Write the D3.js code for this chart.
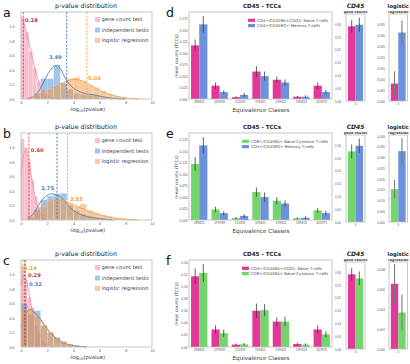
<!DOCTYPE html>
<html lang="en">
<head>
<meta charset="UTF-8">
<title>p-value distribution / CD45 TCCs</title>
<script src="https://cdn.jsdelivr.net/npm/d3@7"></script>
<style>
  body { margin: 0; background: #fff; }
  svg { display: block; font-family: "DejaVu Sans", sans-serif; }
  .frame { fill: none; stroke: #b8b8b8; stroke-width: 0.8; }
  .tick text { fill: #555; }
</style>
</head>
<body>
<script>
  // ---------- data: p-value distributions (a, b, c) ----------
  const testNames = ["gene count test", "independent tests", "logistic regression"];

  // histogram bins [x0, x1, density]
  const aGeneHist = [[0,0.3,1.12],[0.3,0.6,0.92],[0.6,0.9,0.66],[0.9,1.2,0.42],[1.2,1.5,0.24],[1.5,1.8,0.12],[1.8,2.1,0.05],[2.1,2.4,0.02]];
  const aIndepHist = [[1.0,1.5,0.08],[1.5,2.0,0.28],[2.0,2.5,0.28],[2.5,3.0,0.47],[3.0,3.5,0.22],[3.5,4.0,0.13],[4.0,4.5,0.08],[4.5,5.0,0.06],[5.0,5.5,0.05],[5.5,6.0,0.05],[6.0,6.5,0.02]];
  const aLogitHist = [[1.0,1.5,0.05],[1.5,2.0,0.09],[2.0,2.5,0.13],[2.5,3.0,0.18],[3.0,3.5,0.22],[3.5,4.0,0.28],[4.0,4.5,0.30],[4.5,5.0,0.25],[5.0,5.5,0.19],[5.5,6.0,0.16],[6.0,6.5,0.11],[6.5,7.0,0.07],[7.0,7.5,0.04],[7.5,8.0,0.02]];
  const bGeneHist = [[0,0.25,1.12],[0.25,0.5,1.0],[0.5,0.75,0.8],[0.75,1.0,0.55],[1.0,1.25,0.32],[1.25,1.5,0.18],[1.5,1.75,0.08],[1.75,2.0,0.03]];
  const bIndepHist = [[0.5,1.0,0.05],[1.0,1.5,0.14],[1.5,2.0,0.28],[2.0,2.5,0.33],[2.5,3.0,0.36],[3.0,3.5,0.37],[3.5,4.0,0.2],[4.0,4.5,0.13],[4.5,5.0,0.08],[5.0,5.5,0.05],[5.5,6.0,0.03],[6.0,6.5,0.02]];
  const bLogitHist = [[0.5,1.0,0.03],[1.0,1.5,0.1],[1.5,2.0,0.18],[2.0,2.5,0.26],[2.5,3.0,0.29],[3.0,3.5,0.27],[3.5,4.0,0.23],[4.0,4.5,0.19],[4.5,5.0,0.22],[5.0,5.5,0.13],[5.5,6.0,0.1],[6.0,6.5,0.07],[6.5,7.0,0.05],[7.0,7.5,0.03],[7.5,8.0,0.02],[8.0,8.5,0.01]];
  const cGeneHist = [[0,0.25,1.12],[0.25,0.5,0.92],[0.5,0.75,0.68],[0.75,1.0,0.55],[1.0,1.25,0.3],[1.25,1.5,0.2],[1.5,1.75,0.1],[1.75,2.0,0.05]];
  const cIndepHist = [[0,0.5,0.6],[0.5,1.0,0.45],[1.0,1.5,0.5],[1.5,2.0,0.3],[2.0,2.5,0.2],[2.5,3.0,0.13],[3.0,3.5,0.07],[3.5,4.0,0.04],[4.0,4.5,0.02],[4.5,5.0,0.01]];
  const cLogitHist = [[0,0.5,0.48],[0.5,1.0,0.52],[1.0,1.5,0.42],[1.5,2.0,0.3],[2.0,2.5,0.2],[2.5,3.0,0.13],[3.0,3.5,0.08],[3.5,4.0,0.04]];

  // density curves [x, density]
  const aGeneKde = [[0,1.14],[0.25,1.02],[0.5,0.86],[0.75,0.66],[1,0.46],[1.25,0.3],[1.5,0.17],[2,0.05],[2.5,0.01],[3,0]];
  const aIndepKde = [[0.5,0],[1,0.04],[1.5,0.15],[2,0.33],[2.5,0.45],[2.75,0.46],[3,0.42],[3.5,0.25],[4,0.15],[4.5,0.1],[5,0.07],[5.5,0.06],[6,0.04],[7,0.01],[8,0]];
  const aLogitKde = [[0.5,0.01],[1,0.04],[1.5,0.07],[2,0.11],[2.5,0.16],[3,0.21],[3.5,0.25],[4,0.27],[4.5,0.26],[5,0.22],[5.5,0.17],[6,0.12],[6.5,0.08],[7,0.05],[7.5,0.03],[8,0.015],[9,0]];
  const bGeneKde = [[0,0.6],[0.2,0.9],[0.35,0.97],[0.5,0.9],[0.75,0.65],[1,0.38],[1.25,0.2],[1.5,0.08],[2,0.01]];
  const bIndepKde = [[0.5,0.02],[1,0.1],[1.5,0.25],[2,0.34],[2.4,0.36],[3,0.32],[3.5,0.22],[4,0.13],[4.5,0.08],[5,0.05],[6,0.02],[7,0]];
  const bLogitKde = [[0.5,0.02],[1,0.08],[1.5,0.17],[2,0.24],[2.5,0.27],[3,0.27],[3.5,0.25],[4,0.21],[4.5,0.17],[5,0.13],[5.5,0.1],[6,0.07],[7,0.03],[8,0.01],[9,0]];
  const cGeneKde = [[0,0.85],[0.25,1.0],[0.5,0.85],[0.75,0.6],[1,0.4],[1.5,0.15],[2,0.04],[2.5,0]];
  const cIndepKde = [[0,0.28],[0.3,0.45],[0.7,0.52],[1,0.48],[1.5,0.38],[2,0.25],[2.5,0.15],[3,0.08],[3.5,0.04],[4,0.02],[5,0]];
  const cLogitKde = [[0,0.3],[0.3,0.45],[0.6,0.52],[1,0.47],[1.5,0.36],[2,0.24],[2.5,0.14],[3,0.08],[3.5,0.04],[4,0.01]];

  // medians (dashed lines)
  const aMedians = [0.18, 3.49, 5.03];
  const bMedians = [0.60, 2.75, 3.55];
  const cMedians = [0.29, 0.32, 0.14];

  const distTicksX = [0, 2, 4, 6, 8, 10];
  const distTicksY = [0, 0.2, 0.4, 0.6, 0.8, 1.0];

  // ---------- data: CD45 TCCs (d, e, f) ----------
  const eqClasses = ["289825", "299939", "211359", "599451", "599452", "599453", "623975"];
  const naiveTCC = [0.117, 0.029, 0.004, 0.060, 0.042, 0.005, 0.029];
  const naiveTCCErr = [0.013, 0.007, 0.002, 0.012, 0.007, 0.002, 0.007];
  const memoryTCC = [0.163, 0.015, 0.009, 0.050, 0.036, 0.005, 0.015];
  const memoryTCCErr = [0.018, 0.004, 0.004, 0.010, 0.007, 0.003, 0.005];
  const cytoTCC = [0.1225, 0.023, 0.0045, 0.061, 0.042, 0.004, 0.021];
  const cytoTCCErr = [0.015, 0.006, 0.002, 0.010, 0.008, 0.002, 0.005];

  const geneCountMean = { naive: 0.292, memory: 0.298, cyto: 0.276 };
  const geneCountErr = { naive: 0.025, memory: 0.028, cyto: 0.027 };

  const logitD = [0.008, 0.0315], logitDErr = [0.0057, 0.0055];
  const logitE = [0.0153, 0.033], logitEErr = [0.0043, 0.006];
  const logitF = [0.0066, 0.0037], logitFErr = [0.002, 0.0018];

  const cellNames = {
    naive: "CD4+/CD45RA+/CD25- Naive T-cells",
    memory: "CD4+/CD45RO+ Memory T-cells",
    cyto: "CD8+/CD45RA+ Naive Cytotoxic T-cells"
  };

  // ---------- styles ----------
  const histColors = ["#f27d98", "#4a8ad6", "#f5953a"];
  const kdeColors = ["#ec8ea2", "#5b7eaa", "#f0a050"];
  const medColors = ["#de3c55", "#3f73c4", "#f5a043"];
  const noteColors = ["#c9303e", "#3b7fc6", "#f0a02a"];
  const cellColors = { naive: "#e2389a", memory: "#6d92dc", cyto: "#74d56c" };

  const rowTops = [0, 121, 248];

  const svg = d3.select("body").append("svg").attr("width", 410).attr("height", 364);

  function styleAxis(g, size) {
    g.select(".domain").remove();
    g.selectAll(".tick line").remove();
    g.selectAll(".tick text").attr("font-size", size);
  }

  function panelLetter(txt, x, y) {
    svg.append("text").attr("x", x).attr("y", y).attr("font-size", 12.5).attr("fill", "#111").text(txt);
  }

  // ---------- left panels ----------
  function drawDist(letter, top, hists, kdes, medians, notes) {
    const x = d3.scaleLinear().domain([0, 10]).range([21, 152]);
    const y = d3.scaleLinear().domain([0, 1.2]).range([top + 99, top + 12]);
    const g = svg.append("g");

    hists.forEach((h, i) => {
      g.append("g").selectAll("rect").data(h).join("rect")
        .attr("x", d => x(d[0])).attr("width", d => x(d[1]) - x(d[0]))
        .attr("y", d => y(d[2])).attr("height", d => y(0) - y(d[2]))
        .attr("fill", histColors[i]).attr("fill-opacity", 0.5)
        .attr("stroke", "#fff").attr("stroke-opacity", 0.5).attr("stroke-width", 0.3);
    });

    const line = d3.line().x(d => x(d[0])).y(d => y(d[1])).curve(d3.curveCatmullRom);
    kdes.forEach((k, i) => {
      g.append("path").datum(k).attr("d", line)
        .attr("fill", "none").attr("stroke", kdeColors[i]).attr("stroke-width", 0.9);
    });

    medians.forEach((m, i) => {
      g.append("line").attr("x1", x(m)).attr("x2", x(m))
        .attr("y1", top + 12).attr("y2", top + 99)
        .attr("stroke", medColors[i]).attr("stroke-width", 0.9).attr("stroke-dasharray", "2.2,1.4");
    });

    notes.forEach((n, i) => {
      g.append("text").attr("x", x(medians[i]) + n.dx).attr("y", top + n.y)
        .attr("text-anchor", n.anchor || "start")
        .attr("font-size", 5.2).attr("font-weight", "bold").attr("fill", noteColors[i])
        .text(d3.format(".2f")(medians[i]));
    });

    g.append("rect").attr("class", "frame")
      .attr("x", x(0)).attr("y", top + 12).attr("width", x(10) - x(0)).attr("height", 87);

    g.append("g").attr("transform", `translate(${x(0)},0)`)
      .call(d3.axisLeft(y).tickValues(distTicksY).tickFormat(d3.format(".1f")).tickSize(0).tickPadding(6.5))
      .call(a => styleAxis(a, 3.6));
    g.append("g").attr("transform", `translate(0,${top + 99})`)
      .call(d3.axisBottom(x).tickValues(distTicksX).tickSize(0).tickPadding(2.5))
      .call(a => styleAxis(a, 3.6));

    g.append("text").attr("x", 86).attr("y", top + 7.5).attr("text-anchor", "middle")
      .attr("font-size", 6.4).attr("fill", "#222").text("p-value distribution");

    const xl = g.append("text").attr("x", 87).attr("y", top + 111).attr("text-anchor", "middle")
      .attr("font-size", 5.2).attr("fill", "#333");
    xl.append("tspan").text("-log");
    xl.append("tspan").attr("font-size", 3.6).attr("dy", 1).text("10");
    xl.append("tspan").attr("dy", -1).text("(pvalue)");

    const leg = g.append("g").attr("transform", `translate(95,${top + 19.5})`);
    testNames.forEach((t, i) => {
      leg.append("rect").attr("x", 0).attr("y", i * 10.5 - 2.5).attr("width", 5).attr("height", 5)
        .attr("fill", histColors[i]).attr("fill-opacity", 0.5);
      leg.append("text").attr("x", 6.5).attr("y", i * 10.5 + 1.9)
        .attr("font-size", 5.2).attr("fill", "#444").text(t);
    });

    panelLetter(letter, 3, top + 17);
  }

  drawDist("a", rowTops[0], [aGeneHist, aIndepHist, aLogitHist], [aGeneKde, aIndepKde, aLogitKde], aMedians,
    [{ dx: 1.6, y: 22 }, { dx: -5, y: 59, anchor: "end" }, { dx: 1.2, y: 80 }]);
  drawDist("b", rowTops[1], [bGeneHist, bIndepHist, bLogitHist], [bGeneKde, bIndepKde, bLogitKde], bMedians,
    [{ dx: 2, y: 31 }, { dx: -3, y: 69, anchor: "end" }, { dx: 2.5, y: 80 }]);
  drawDist("c", rowTops[2], [cGeneHist, cIndepHist, cLogitHist], [cGeneKde, cIndepKde, cLogitKde], cMedians,
    [{ dx: 3.2, y: 29 }, { dx: 3.8, y: 37.5 }, { dx: 1.2, y: 21.5 }]);

  // ---------- right panels ----------
  const tccData = { naive: [naiveTCC, naiveTCCErr], memory: [memoryTCC, memoryTCCErr], cyto: [cytoTCC, cytoTCCErr] };

  function drawTCC(letter, top, pair, yMax, ticks, fmt) {
    const x = d3.scaleBand().domain(eqClasses).range([189, 332]).paddingInner(0.2).paddingOuter(0.1);
    const xs = d3.scaleBand().domain(pair).range([0, x.bandwidth()]);
    const y = d3.scaleLinear().domain([0, yMax]).range([top + 99, top + 12]);
    const g = svg.append("g");

    pair.forEach(key => {
      const [vals, errs] = tccData[key];
      const rows = eqClasses.map((c, i) => ({ c, v: vals[i], e: errs[i] }));
      g.append("g").selectAll("rect").data(rows).join("rect")
        .attr("x", d => x(d.c) + xs(key)).attr("width", xs.bandwidth())
        .attr("y", d => y(d.v)).attr("height", d => y(0) - y(d.v))
        .attr("fill", cellColors[key]);
      g.append("g").selectAll("line").data(rows).join("line")
        .attr("x1", d => x(d.c) + xs(key) + xs.bandwidth() / 2)
        .attr("x2", d => x(d.c) + xs(key) + xs.bandwidth() / 2)
        .attr("y1", d => y(d.v - d.e)).attr("y2", d => y(d.v + d.e))
        .attr("stroke", "#3a3a3a").attr("stroke-width", 0.8);
    });

    g.append("rect").attr("class", "frame")
      .attr("x", 189).attr("y", top + 12).attr("width", 143).attr("height", 87);

    g.append("g").attr("transform", "translate(189,0)")
      .call(d3.axisLeft(y).tickValues(ticks).tickFormat(d3.format(fmt)).tickSize(0).tickPadding(1.5))
      .call(a => styleAxis(a, 3.2));
    g.append("g").attr("transform", `translate(0,${top + 99})`)
      .call(d3.axisBottom(x).tickSize(0).tickPadding(1.8))
      .call(a => styleAxis(a, 3.2));

    g.append("text").attr("x", 262).attr("y", top + 8).attr("text-anchor", "middle")
      .attr("font-size", 5.6).attr("font-weight", "bold").attr("fill", "#222").text("CD45 - TCCs");
    g.append("text").attr("x", 261).attr("y", top + 112).attr("text-anchor", "middle")
      .attr("font-size", 5.6).attr("fill", "#333").text("Equivalence Classes");
    g.append("text").attr("transform", `translate(177.5,${top + 56}) rotate(-90)`).attr("text-anchor", "middle")
      .attr("font-size", 4.3).attr("fill", "#333").text("mean counts (TCCs)");

    const leg = g.append("g");
    pair.forEach((key, i) => {
      leg.append("text").attr("class", "lt").attr("x", 0).attr("y", i * 5.3 + 1.5)
        .attr("font-size", 3.9).attr("fill", "#444").text(cellNames[key]);
    });
    const w = d3.max(leg.selectAll(".lt").nodes(), n => n.getComputedTextLength());
    pair.forEach((key, i) => {
      leg.append("rect").attr("x", -9).attr("y", i * 5.3 - 1.3).attr("width", 7).attr("height", 3.2)
        .attr("fill", cellColors[key]);
    });
    leg.attr("transform", `translate(${328 - w},${top + 20})`);

    panelLetter(letter, 166, top + 17);
  }

  function drawSmall(top, x0, x1, keys, vals, errs, yMax, ticks, fmt, title, sub, italic, errColor, errWidth, pad) {
    const x = d3.scaleBand().domain(["0"]).range([x0, x1]).paddingInner(0.2).paddingOuter(0.1);
    const xs = d3.scaleBand().domain(keys).range([0, x.bandwidth()]);
    const y = d3.scaleLinear().domain([0, yMax]).range([top + 101, top + 14]);
    const g = svg.append("g");
    const rows = keys.map((k, i) => ({ k, v: vals[i], e: errs[i] }));

    g.selectAll("rect.bar").data(rows).join("rect").attr("class", "bar")
      .attr("x", d => x("0") + xs(d.k)).attr("width", xs.bandwidth())
      .attr("y", d => y(d.v)).attr("height", d => y(0) - y(d.v))
      .attr("fill", d => cellColors[d.k]);
    g.selectAll("line.err").data(rows).join("line").attr("class", "err")
      .attr("x1", d => x("0") + xs(d.k) + xs.bandwidth() / 2)
      .attr("x2", d => x("0") + xs(d.k) + xs.bandwidth() / 2)
      .attr("y1", d => y(d.v - d.e)).attr("y2", d => y(d.v + d.e))
      .attr("stroke", errColor).attr("stroke-width", errWidth);

    g.append("rect").attr("class", "frame")
      .attr("x", x0).attr("y", top + 14).attr("width", x1 - x0).attr("height", 87);
    g.append("g").attr("transform", `translate(${x0},0)`)
      .call(d3.axisLeft(y).tickValues(ticks).tickFormat(d3.format(fmt)).tickSize(0).tickPadding(pad))
      .call(a => styleAxis(a, 3.1));
    g.append("g").attr("transform", `translate(0,${top + 101})`)
      .call(d3.axisBottom(x).tickSize(0).tickPadding(1.8))
      .call(a => styleAxis(a, 3.1));

    const cx = (x0 + x1) / 2;
    g.append("text").attr("x", cx).attr("y", top + 8).attr("text-anchor", "middle")
      .attr("font-size", italic ? 6 : 5.2).attr("font-weight", "bold")
      .attr("font-style", italic ? "italic" : "normal").attr("fill", "#222").text(title);
    g.append("text").attr("x", cx).attr("y", top + 13.2).attr("text-anchor", "middle")
      .attr("font-size", 3.4).attr("font-weight", "bold").attr("fill", "#333").text(sub);
  }

  const gcTicks = [0, 0.05, 0.10, 0.15, 0.20, 0.25, 0.30];
  const tccTicks = [0, 0.025, 0.05, 0.075, 0.1, 0.125, 0.15, 0.175];

  const panels = [
    { letter: "d", pair: ["naive", "memory"], yMax: 0.19, ticks: tccTicks, fmt: ".3f",
      logit: logitD, logitErr: logitDErr, lMax: 0.040, lTicks: [0, 0.005, 0.01, 0.015, 0.02, 0.025, 0.03, 0.035] },
    { letter: "e", pair: ["cyto", "memory"], yMax: 0.19, ticks: tccTicks, fmt: ".3f",
      logit: logitE, logitErr: logitEErr, lMax: 0.0405, lTicks: [0, 0.005, 0.01, 0.015, 0.02, 0.025, 0.03, 0.035, 0.04] },
    { letter: "f", pair: ["naive", "cyto"], yMax: 0.144, ticks: [0, 0.02, 0.04, 0.06, 0.08, 0.10, 0.12, 0.14], fmt: ".2f",
      logit: logitF, logitErr: logitFErr, lMax: 0.0088, lTicks: [0, 0.002, 0.004, 0.006, 0.008] }
  ];

  panels.forEach((p, i) => {
    const top = rowTops[i];
    drawTCC(p.letter, top, p.pair, p.yMax, p.ticks, p.fmt);
    drawSmall(top, 346, 365, p.pair, p.pair.map(k => geneCountMean[k]), p.pair.map(k => geneCountErr[k]),
      0.34, gcTicks, ".2f", "CD45", "gene counts", true, "#3a3a3a", 0.8, 5);
    drawSmall(top, 389, 407.5, p.pair, p.logit, p.logitErr,
      p.lMax, p.lTicks, ".3f", "logistic", "regression", false, "#7a7a7a", 1.1, 4);
  });
</script>
</body>
</html>
